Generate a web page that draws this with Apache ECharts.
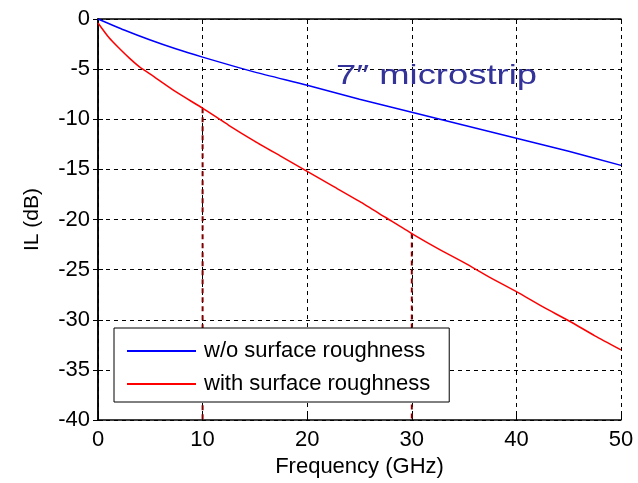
<!DOCTYPE html>
<html>
<head>
<meta charset="utf-8">
<script src="https://cdn.jsdelivr.net/npm/echarts@6/dist/echarts.min.js"></script>
<style>html,body{margin:0;padding:0;background:#fff;}#c{width:638px;height:483px;}</style>
</head>
<body>
<div id="c"></div>
<script>
const freqBlue = [0, 2.5, 5, 7.5, 10, 15, 20, 25, 30, 35, 40, 45, 50];
const ilBlue = [0, -1.1, -2.1, -3.0, -3.8, -5.3, -6.6, -8.0, -9.3, -10.6, -11.9, -13.2, -14.6];
const freqRed = [0, 1, 2, 3, 4, 5, 7.5, 10, 12.5, 15, 17.5, 20, 22.5, 25, 27.5, 30, 32.5, 35, 37.5, 40, 42.5, 45, 47.5, 50];
const ilRed = [-0.4, -1.8, -2.9, -3.9, -4.8, -5.5, -7.3, -8.9, -10.6, -12.2, -13.7, -15.2, -16.7, -18.2, -19.8, -21.4, -22.9, -24.3, -25.8, -27.2, -28.7, -30.1, -31.6, -33.0];
const markerFreqs = [10, 30];
const xTicks = [0, 10, 20, 30, 40, 50];
const yTicks = [0, -5, -10, -15, -20, -25, -30, -35, -40];
const seriesNames = ['w/o surface roughness', 'with surface roughness'];
const annotation = '7\u2033 microstrip';

const font = 'Arial, "Liberation Sans", sans-serif';
const chart = echarts.init(document.getElementById('c'), null, {renderer: 'canvas'});

const blueData = freqBlue.map((f, i) => [f, ilBlue[i]]);
const redData = freqRed.map((f, i) => [f, ilRed[i]]);
const markerSeries = markerFreqs.map(f => {
  const idx = freqRed.indexOf(f);
  return {
    type: 'line', silent: true, showSymbol: false, symbol: 'none',
    data: [[f, ilRed[idx]], [f, yTicks[yTicks.length - 1]]],
    lineStyle: {color: '#800000', width: 2, type: [5, 4]}, z: 1
  };
});

chart.setOption({
  animation: false,
  backgroundColor: '#fff',
  grid: {left: 98, top: 19, right: 17, bottom: 63, containLabel: false},
  legend: {
    orient: 'vertical', left: 114, top: 328,
    data: seriesNames,
    icon: 'rect', itemWidth: 69, itemHeight: 2, itemGap: 11,
    padding: [12, 19, 7, 13],
    borderColor: '#000', borderWidth: 1, backgroundColor: '#fff',
    textStyle: {fontFamily: font, fontSize: 22, color: '#000', padding: [0, 0, 0, 3]}
  },
  xAxis: [{
    type: 'value', min: xTicks[0], max: xTicks[xTicks.length - 1], interval: 10, position: 'bottom',
    name: 'Frequency (GHz)', nameLocation: 'middle', nameGap: 36,
    nameTextStyle: {fontFamily: font, fontSize: 22, color: '#000'},
    axisLine: {show: true, onZero: false, lineStyle: {color: '#000', width: 1.5}},
    axisTick: {show: true, inside: true, length: 5, lineStyle: {color: '#000'}},
    axisLabel: {fontFamily: font, fontSize: 22, color: '#000', margin: 9},
    splitLine: {show: true, lineStyle: {color: '#000', type: [4, 4], width: 1}}
  }, {
    type: 'value', min: xTicks[0], max: xTicks[xTicks.length - 1], interval: 10, position: 'top',
    axisLine: {show: true, lineStyle: {color: '#000', width: 1.5}},
    axisTick: {show: true, inside: true, length: 5, lineStyle: {color: '#000'}},
    axisLabel: {show: false}, splitLine: {show: false}
  }],
  yAxis: [{
    type: 'value', min: yTicks[yTicks.length - 1], max: yTicks[0], interval: 5, position: 'left',
    name: 'IL (dB)', nameLocation: 'middle', nameGap: 55,
    nameTextStyle: {fontFamily: font, fontSize: 21, color: '#000'},
    axisLine: {show: true, onZero: false, lineStyle: {color: '#000', width: 1.5}},
    axisTick: {show: true, inside: true, length: 5, lineStyle: {color: '#000'}},
    axisLabel: {fontFamily: font, fontSize: 22, color: '#000', margin: 8},
    splitLine: {show: true, lineStyle: {color: '#000', type: [4, 4], width: 1}}
  }, {
    type: 'value', min: yTicks[yTicks.length - 1], max: yTicks[0], interval: 5, position: 'right',
    axisLine: {show: true, lineStyle: {color: '#000', width: 1.5}},
    axisTick: {show: true, inside: true, length: 5, lineStyle: {color: '#000'}},
    axisLabel: {show: false}, splitLine: {show: false}
  }],
  graphic: [{
    type: 'text', left: 336, top: 62, z: 100,
    scaleX: 1.3,
    style: {text: annotation, fontFamily: font, fontSize: 28, fill: '#333399'}
  }],
  series: [
    ...markerSeries,
    {name: seriesNames[0], type: 'line', data: blueData, showSymbol: false, symbol: 'none',
     lineStyle: {color: '#0000ff', width: 1.5}, itemStyle: {color: '#0000ff'}, z: 3, smooth: 0.2},
    {name: seriesNames[1], type: 'line', data: redData, showSymbol: false, symbol: 'none',
     lineStyle: {color: '#ff0000', width: 1.5}, itemStyle: {color: '#ff0000'}, z: 3, smooth: 0.2}
  ]
});
</script>
</body>
</html>
